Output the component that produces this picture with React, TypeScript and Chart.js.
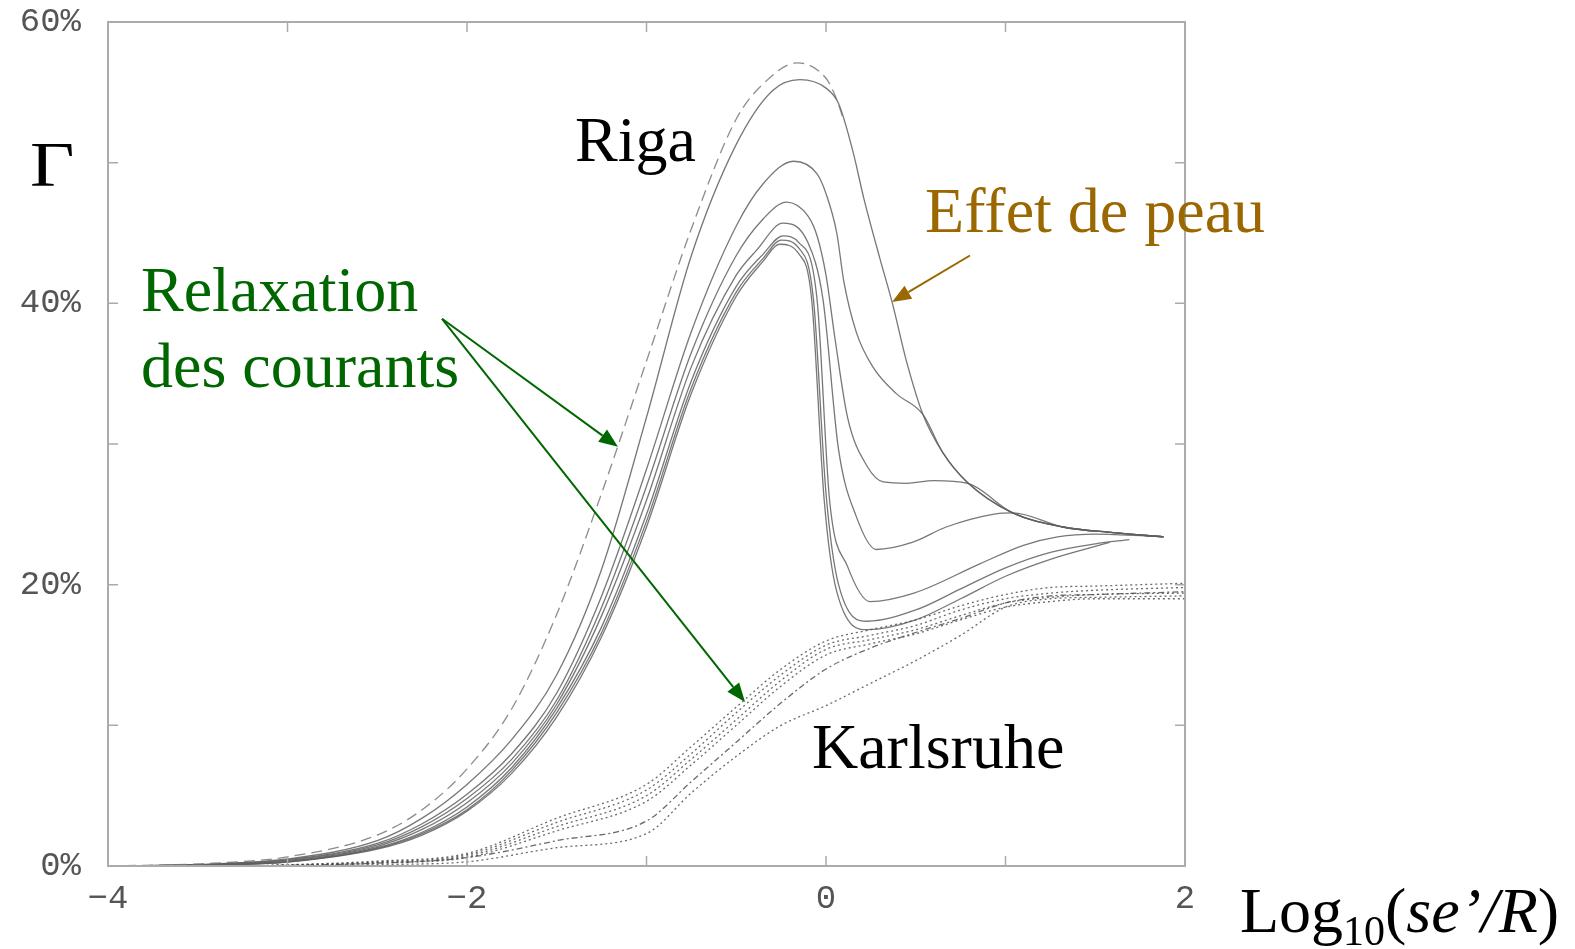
import React, { useEffect, useRef } from "react";
import { Chart, registerables } from "chart.js";

Chart.register(...registerables);

// ---------- Riga curves (solid grey, one dashed) ----------
const rigaDashedX = [-4, -3.5, -3, -2.5, -2.25, -2, -1.75, -1.5, -1.25, -1, -0.75, -0.5, -0.35, -0.16, 0, 0.05, 0.1];
const rigaDashedY = [0, 0.15, 0.65, 2.2, 4.0, 6.9, 11.2, 17.9, 26.5, 35.9, 45.3, 53.1, 55.6, 57.1, 56.0, 54.8, 53.0];

const rigaBX = [-4, -3.5, -3, -2.5, -2.25, -2, -1.75, -1.5, -1.25, -1, -0.75, -0.5, -0.3, -0.145, 0, 0.07, 0.15, 0.21, 0.3, 0.37, 0.45, 0.54, 0.65, 0.785, 1.04, 1.32, 1.6, 1.88];
const rigaBY = [0, 0.1, 0.5, 1.8, 3.4, 5.8, 9.0, 13.6, 21.1, 31.9, 43.4, 51.3, 55.1, 55.9, 55.3, 54.2, 50.8, 47.5, 43.2, 40.0, 35.8, 32.1, 29.4, 27.3, 25.1, 24.1, 23.7, 23.4];

const rigaCX = [-4, -3.5, -3, -2.5, -2.25, -2, -1.75, -1.5, -1.25, -1, -0.75, -0.5, -0.35, -0.18, -0.05, 0, 0.06, 0.1, 0.17, 0.26, 0.39, 0.54, 0.65, 0.785, 1.04, 1.32, 1.6, 1.88];
const rigaCY = [0, 0.1, 0.45, 1.6, 3.0, 5.1, 8.0, 12.3, 19.2, 28.2, 38.0, 45.5, 48.5, 50.1, 49.2, 47.8, 45.0, 41.5, 37.9, 35.5, 33.6, 32.1, 29.4, 27.3, 25.1, 24.1, 23.7, 23.4];

const rigaDX = [-4, -3.5, -3, -2.5, -2.25, -2, -1.75, -1.5, -1.25, -1, -0.75, -0.5, -0.35, -0.22, -0.1, -0.05, 0, 0.05, 0.12, 0.23, 0.32, 0.45, 0.6, 0.79, 1.04, 1.32, 1.6, 1.88];
const rigaDY = [0, 0.1, 0.4, 1.5, 2.8, 4.8, 7.6, 11.8, 18.4, 27.0, 36.5, 43.4, 46.0, 47.2, 46.2, 44.8, 42.0, 37.5, 31.9, 28.4, 27.3, 27.2, 27.4, 27.2, 25.1, 24.1, 23.7, 23.4];

const rigaEX = [-4, -3.5, -3, -2.5, -2.25, -2, -1.75, -1.5, -1.25, -1, -0.75, -0.5, -0.385, -0.24, -0.1, -0.017, 0.07, 0.17, 0.28, 0.48, 0.67, 0.93, 1.04, 1.32, 1.6, 1.88];
const rigaEY = [0, 0.08, 0.35, 1.4, 2.6, 4.5, 7.3, 11.5, 17.8, 26.0, 35.5, 42.0, 43.8, 45.7, 44.3, 40.3, 29.6, 24.8, 22.5, 23.0, 24.1, 25.0, 25.1, 24.1, 23.7, 23.4];

const rigaFX = [-4, -3.5, -3, -2.5, -2.25, -2, -1.75, -1.5, -1.25, -1, -0.75, -0.5, -0.35, -0.24, -0.15, -0.05, 0.02, 0.12, 0.245, 0.49, 0.86, 1.1, 1.29, 1.5, 1.88];
const rigaFY = [0, 0.07, 0.3, 1.3, 2.4, 4.2, 7.0, 11.2, 17.0, 25.0, 34.5, 41.2, 43.5, 44.8, 44.3, 40.3, 26.0, 21.3, 18.8, 19.4, 21.5, 22.8, 23.4, 23.6, 23.4];

const rigaGX = [-4, -3.5, -3, -2.5, -2.25, -2, -1.75, -1.5, -1.25, -1, -0.75, -0.5, -0.35, -0.25, -0.15, -0.07, 0, 0.07, 0.23, 0.5, 0.75, 1.0, 1.25, 1.5, 1.69];
const rigaGY = [0, 0.07, 0.3, 1.25, 2.3, 4.0, 6.8, 10.9, 16.6, 24.5, 34.0, 40.8, 43.2, 44.5, 43.9, 40.3, 26.5, 20.0, 17.4, 18.2, 19.7, 21.2, 22.3, 22.9, 23.2];

const rigaHX = [-4, -3.5, -3, -2.5, -2.25, -2, -1.75, -1.5, -1.25, -1, -0.75, -0.5, -0.35, -0.26, -0.15, -0.08, -0.01, 0.06, 0.23, 0.5, 0.75, 1.0, 1.25, 1.58];
const rigaHY = [0, 0.06, 0.28, 1.2, 2.2, 3.9, 6.6, 10.6, 16.3, 24.1, 33.6, 40.5, 43.0, 44.2, 43.5, 40.3, 26.0, 19.5, 16.8, 17.5, 19.0, 20.6, 21.8, 23.0];

// ---------- Karlsruhe curves (dotted) ----------
const karlsruheX = [-3.2, -2.5, -2, -1.5, -1, -0.75, -0.5, -0.25, 0, 0.25, 0.5, 0.75, 1, 1.25, 1.5, 2];
const karlsruhe1Y = [0, 0.1, 0.3, 1.3, 2.3, 5.2, 7.8, 10.0, 11.4, 13.0, 14.6, 16.4, 18.4, 19.0, 19.1, 19.2];
const karlsruhe2Y = [0, 0.2, 0.6, 1.8, 3.2, 6.0, 8.8, 11.6, 14.0, 15.5, 16.6, 17.6, 18.7, 19.2, 19.3, 19.5];
const karlsruhe3Y = [0, 0.35, 0.9, 3.4, 5.8, 8.5, 11.3, 14.0, 16.0, 16.8, 17.5, 18.5, 19.3, 19.8, 19.9, 20.1];
const karlsruhe4Y = [0, 0.3, 0.8, 3.1, 5.4, 8.0, 10.9, 13.6, 15.7, 16.4, 17.1, 18.2, 19.0, 19.4, 19.6, 19.8];
const karlsruhe5Y = [0, 0.25, 0.7, 2.8, 5.0, 7.6, 10.4, 13.2, 15.4, 16.1, 16.8, 17.8, 18.7, 19.1, 19.3, 19.4];
const karlsruhe6Y = [0, 0.2, 0.6, 2.5, 4.6, 7.2, 10.0, 12.8, 15.0, 15.8, 16.5, 17.5, 18.4, 18.8, 19.0, 19.0];

// ---------- Axis ticks ----------
const xLabelValues = [-4, -2, 0, 2];
const yLabelValues = [0, 20, 40, 60];

// ---------- Annotations (data coordinates) ----------
const annotationTexts = [
  { text: "Riga", x: -1.398, y: 50.11, color: "#000000" },
  { text: "Karlsruhe", x: -0.078, y: 6.97, color: "#000000" },
  { text: "Effet de peau", x: 0.552, y: 45.06, color: "#9a6700" },
  { text: "Relaxation", x: -3.816, y: 39.45, color: "#006600" },
  { text: "des courants", x: -3.816, y: 34.04, color: "#006600" },
];
const annotationArrows = [
  { from: [0.802, 43.4], to: [0.368, 40.1], color: "#9a6700" },
  { from: [-2.139, 38.9], to: [-1.159, 29.8], color: "#006600" },
  { from: [-2.139, 38.9], to: [-0.451, 11.66], color: "#006600" },
];

const pts = (xs: number[], ys: number[]) => xs.map((x, i) => ({ x, y: ys[i] }));

const framePlugin = {
  id: "frameTicks",
  afterDatasetsDraw(chart: any) {
    const { ctx, chartArea: a, scales } = chart;
    const x = scales.x;
    const y = scales.y;
    ctx.save();
    ctx.strokeStyle = "#ababab";
    ctx.lineWidth = 2;
    ctx.strokeRect(a.left, a.top, a.right - a.left, a.bottom - a.top);
    ctx.lineWidth = 1.5;
    ctx.beginPath();
    const len = 10;
    x.ticks.forEach((t: any) => {
      const px = x.getPixelForValue(t.value);
      if (px <= a.left + 1 || px >= a.right - 1) return;
      ctx.moveTo(px, a.bottom);
      ctx.lineTo(px, a.bottom - len);
      ctx.moveTo(px, a.top);
      ctx.lineTo(px, a.top + len);
    });
    y.ticks.forEach((t: any) => {
      const py = y.getPixelForValue(t.value);
      if (py <= a.top + 1 || py >= a.bottom - 1) return;
      ctx.moveTo(a.left, py);
      ctx.lineTo(a.left + len, py);
      ctx.moveTo(a.right, py);
      ctx.lineTo(a.right - len, py);
    });
    ctx.stroke();
    ctx.restore();
  },
};

const annotationPlugin = {
  id: "annotations",
  afterDraw(chart: any) {
    const { ctx, scales } = chart;
    const X = (v: number) => scales.x.getPixelForValue(v);
    const Y = (v: number) => scales.y.getPixelForValue(v);
    ctx.save();
    ctx.textBaseline = "alphabetic";
    ctx.textAlign = "left";
    ctx.font = '64px "Liberation Serif"';
    annotationTexts.forEach((t) => {
      ctx.fillStyle = t.color;
      ctx.fillText(t.text, X(t.x), Y(t.y));
    });
    // Gamma symbol (y axis title), slightly widened
    ctx.fillStyle = "#000";
    ctx.font = '64px "Liberation Serif"';
    ctx.save();
    ctx.translate(X(-4.435), Y(48.33));
    ctx.scale(1.2, 1);
    ctx.fillText("Γ", 0, 0);
    ctx.restore();
    // x axis title: Log10(se'/R)
    let cx = X(2.306);
    const by = Y(-4.7);
    ctx.font = '64px "Liberation Serif"';
    ctx.fillText("Log", cx, by);
    cx += ctx.measureText("Log").width;
    ctx.font = '42px "Liberation Serif"';
    ctx.fillText("10", cx, by + 13);
    cx += ctx.measureText("10").width;
    ctx.font = '64px "Liberation Serif"';
    ctx.fillText("(", cx, by);
    cx += ctx.measureText("(").width;
    ctx.font = 'italic 64px "Liberation Serif"';
    ctx.fillText("se’/R", cx, by);
    cx += ctx.measureText("se’/R").width;
    ctx.font = '64px "Liberation Serif"';
    ctx.fillText(")", cx, by);

    // arrows
    annotationArrows.forEach((ar) => {
      const x1 = X(ar.from[0]);
      const y1 = Y(ar.from[1]);
      const x2 = X(ar.to[0]);
      const y2 = Y(ar.to[1]);
      const ang = Math.atan2(y2 - y1, x2 - x1);
      const hl = 19;
      const hw = 7.5;
      const bx = x2 - hl * Math.cos(ang);
      const by2 = y2 - hl * Math.sin(ang);
      ctx.strokeStyle = ar.color;
      ctx.fillStyle = ar.color;
      ctx.lineWidth = 2;
      ctx.beginPath();
      ctx.moveTo(x1, y1);
      ctx.lineTo(bx, by2);
      ctx.stroke();
      ctx.beginPath();
      ctx.moveTo(x2, y2);
      ctx.lineTo(bx + hw * Math.sin(ang), by2 - hw * Math.cos(ang));
      ctx.lineTo(bx - hw * Math.sin(ang), by2 + hw * Math.cos(ang));
      ctx.closePath();
      ctx.fill();
    });
    ctx.restore();
  },
};

export default function App() {
  const canvasRef = useRef<HTMLCanvasElement | null>(null);

  useEffect(() => {
    if (!canvasRef.current) return;
    const rigaStyle = {
      borderColor: "rgba(95,95,95,0.85)",
      borderWidth: 1.3,
      pointRadius: 0,
      fill: false,
      cubicInterpolationMode: "monotone" as const,
    };
    const kaStyle = {
      borderColor: "rgba(70,70,70,0.8)",
      borderWidth: 1.3,
      pointRadius: 0,
      fill: false,
      borderDash: [2, 3],
      cubicInterpolationMode: "monotone" as const,
    };
    const datasets: any[] = [
      { label: "Karlsruhe 1", data: pts(karlsruheX, karlsruhe1Y), ...kaStyle },
      { label: "Karlsruhe 2", data: pts(karlsruheX, karlsruhe2Y), ...kaStyle, borderDash: [6, 3, 2, 3] },
      { label: "Karlsruhe 3", data: pts(karlsruheX, karlsruhe3Y), ...kaStyle },
      { label: "Karlsruhe 4", data: pts(karlsruheX, karlsruhe4Y), ...kaStyle },
      { label: "Karlsruhe 5", data: pts(karlsruheX, karlsruhe5Y), ...kaStyle },
      { label: "Karlsruhe 6", data: pts(karlsruheX, karlsruhe6Y), ...kaStyle },
      { label: "Riga dashed", data: pts(rigaDashedX, rigaDashedY), ...rigaStyle, borderColor: "rgba(120,120,120,0.85)", borderDash: [11, 6] },
      { label: "Riga B", data: pts(rigaBX, rigaBY), ...rigaStyle },
      { label: "Riga C", data: pts(rigaCX, rigaCY), ...rigaStyle },
      { label: "Riga D", data: pts(rigaDX, rigaDY), ...rigaStyle },
      { label: "Riga E", data: pts(rigaEX, rigaEY), ...rigaStyle },
      { label: "Riga F", data: pts(rigaFX, rigaFY), ...rigaStyle },
      { label: "Riga G", data: pts(rigaGX, rigaGY), ...rigaStyle },
      { label: "Riga H", data: pts(rigaHX, rigaHY), ...rigaStyle },
    ];

    const tickFont = { family: '"Liberation Mono", "DejaVu Sans Mono", monospace', size: 34 };

    const chart = new Chart(canvasRef.current, {
      type: "line",
      data: { datasets },
      options: {
        animation: false,
        responsive: false,
        maintainAspectRatio: false,
        layout: { autoPadding: false, padding: { left: 0, top: 22, right: 390, bottom: 0 } },
        plugins: { legend: { display: false }, tooltip: { enabled: false }, title: { display: false } },
        scales: {
          x: {
            type: "linear",
            min: -4,
            max: 2,
            grid: { display: false, drawTicks: false },
            border: { display: false },
            ticks: {
              stepSize: 1,
              autoSkip: false,
              maxRotation: 0,
              padding: 13,
              color: "#555",
              font: tickFont,
              callback: (v: any) => (xLabelValues.includes(Number(v)) ? String(v).replace("-", "\u2212") : ""),
            },
            afterFit: (s: any) => {
              s.height = 83;
              s.paddingLeft = 0;
              s.paddingRight = 0;
            },
          },
          y: {
            type: "linear",
            min: 0,
            max: 60,
            grid: { display: false, drawTicks: false },
            border: { display: false },
            ticks: {
              stepSize: 10,
              autoSkip: false,
              padding: 27,
              color: "#555",
              font: tickFont,
              callback: (v: any) => (yLabelValues.includes(Number(v)) ? `${v}%` : ""),
            },
            afterFit: (s: any) => {
              s.width = 108;
              s.paddingTop = 0;
              s.paddingBottom = 0;
            },
          },
        },
      } as any,
      plugins: [framePlugin, annotationPlugin],
    });
    return () => chart.destroy();
  }, []);

  return (
    <div style={{ position: "absolute", left: 0, top: 0, width: 1575, height: 949, background: "#ffffff" }}>
      <canvas ref={canvasRef} width={1575} height={949} style={{ display: "block" }} />
    </div>
  );
}
